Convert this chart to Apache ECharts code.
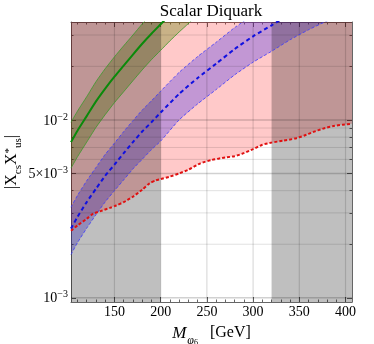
<!DOCTYPE html>
<html><head><meta charset="utf-8">
<script src="https://cdn.jsdelivr.net/npm/echarts@6/dist/echarts.min.js"></script>
<style>html,body{margin:0;padding:0;background:#fff}#c{width:374px;height:344px}</style>
</head><body><div id="c"></div>
<script>
// ---- data ----
const redMass  = [103,110,120,127,135,145,152,160,170,180,188,195,200,210,220,230,243,255,270,280,290,300,310,320,333,345,355,365,375,387,397,407];
const redValue = [2.38e-3,2.55e-3,2.78e-3,2.97e-3,3.07e-3,3.20e-3,3.30e-3,3.45e-3,3.70e-3,4.05e-3,4.40e-3,4.58e-3,4.65e-3,4.80e-3,5.00e-3,5.25e-3,5.70e-3,5.95e-3,6.15e-3,6.25e-3,6.50e-3,6.85e-3,7.25e-3,7.45e-3,7.65e-3,7.85e-3,8.15e-3,8.55e-3,8.90e-3,9.25e-3,9.40e-3,9.50e-3];

const blueMass   = [103,110,120,130,140,150,160,170,180,190,200,220,240,260,280,300,320,340,360,380,400,407];
const blueCenter = [2.45e-3,2.85e-3,3.45e-3,4.1e-3,4.85e-3,5.6e-3,6.5e-3,7.5e-3,8.6e-3,9.7e-3,1.10e-2,1.40e-2,1.72e-2,2.07e-2,2.50e-2,2.95e-2,3.40e-2,3.95e-2,4.5e-2,5.1e-2,5.7e-2,5.9e-2];
const blueUpper  = [3.23e-3,3.76e-3,4.55e-3,5.4e-3,6.4e-3,7.4e-3,8.6e-3,9.9e-3,1.135e-2,1.28e-2,1.45e-2,1.85e-2,2.27e-2,2.73e-2,3.30e-2,3.89e-2,4.5e-2,5.2e-2,5.9e-2,6.7e-2,7.5e-2,7.8e-2];
const blueLower  = [1.75e-3,2.04e-3,2.46e-3,2.93e-3,3.46e-3,4.0e-3,4.6e-3,5.3e-3,6.0e-3,6.8e-3,7.6e-3,1.0e-2,1.23e-2,1.48e-2,1.79e-2,2.11e-2,2.43e-2,2.82e-2,3.21e-2,3.6e-2,4.0e-2,4.2e-2];

const greenMass   = [103,110,120,130,140,150,160,170,180,190,200,210,220,230,240,250];
const greenCenter = [7.5e-3,8.7e-3,1.05e-2,1.27e-2,1.50e-2,1.75e-2,2.02e-2,2.33e-2,2.68e-2,3.05e-2,3.45e-2,3.9e-2,4.4e-2,4.9e-2,5.4e-2,6.0e-2];
const greenUpper  = [9.7e-3,1.12e-2,1.35e-2,1.64e-2,1.94e-2,2.26e-2,2.61e-2,3.0e-2,3.46e-2,3.93e-2,4.45e-2,5.0e-2,5.7e-2,6.3e-2,7.0e-2,7.7e-2];
const greenLower  = [5.36e-3,6.2e-3,7.5e-3,9.07e-3,1.07e-2,1.25e-2,1.44e-2,1.66e-2,1.91e-2,2.18e-2,2.46e-2,2.78e-2,3.12e-2,3.48e-2,3.9e-2,4.3e-2];

const grayMassRanges = [[103,200],[320,407]];

const xTickLabels = [150,200,250,300,350,400];
const xMinorTicks = [110,120,130,140,160,170,180,190,210,220,230,240,260,270,280,290,310,320,330,340,360,370,380,390];
const yTickLabels = [0.001,0.005,0.01];
const yMinorTicks = [0.002,0.003,0.004,0.006,0.007,0.008,0.009,0.02,0.03];
const yGridValues = [0.001,0.002,0.003,0.004,0.005,0.006,0.007,0.008,0.009,0.01,0.02,0.03];
const xGridValues = [150,200,250,300,350,400];

// ---- chart ----
const X_MIN = 103, X_MAX = 407, Y_MIN = 9.47e-4, Y_MAX = 0.0355;
const SERIF = 'Liberation Serif, Times New Roman, serif';
const pairs = (xs, ys) => xs.map((x, i) => [x, ys[i]]);

function yFmt(v) {
  const e = Math.floor(Math.log10(v) + 1e-9);
  const m = Math.round(v / Math.pow(10, e));
  return (m === 1 ? '{b|10}' : '{b|' + m + '×10}') + '{s|−' + (-e) + '}';
}
const yRich = {
  b: {fontSize: 14, fontFamily: SERIF, color: '#000', lineHeight: 16, verticalAlign: 'bottom'},
  s: {fontSize: 10, fontFamily: SERIF, color: '#000', lineHeight: 10, verticalAlign: 'top'}
};

function polygonSeries(z, color, buildPts) {
  return {
    type: 'custom', coordinateSystem: 'cartesian2d', clip: true, silent: true, z: z,
    data: [[200, 0.005]],
    renderItem: (params, api) => ({type: 'polygon', shape: {points: buildPts(api)}, style: {fill: color}})
  };
}
function band(xs, up, lo) {
  return api => {
    const p = [];
    xs.forEach((x, i) => p.push(api.coord([x, up[i]])));
    for (let i = xs.length - 1; i >= 0; i--) p.push(api.coord([xs[i], lo[i]]));
    return p;
  };
}
function lineSeries(xs, ys, color, width, type, z) {
  return {type: 'line', data: pairs(xs, ys), showSymbol: false, smooth: 0.2, clip: true, silent: true, z: z,
    lineStyle: {color: color, width: width, type: type}};
}

const chart = echarts.init(document.getElementById('c'), null, {renderer: 'canvas'});
const axisLineStyle = {color: '#666', width: 1};
const tickStyle = {color: '#666', width: 1};

chart.setOption({
  animation: false,
  backgroundColor: '#fff',
  grid: {left: 71, right: 22, top: 22, bottom: 42, containLabel: false, outerBoundsMode: 'none'},
  graphic: [{
    type: 'text', x: 211, y: 12,
    style: {text: 'Scalar Diquark', font: '17px ' + SERIF, fill: '#000', textAlign: 'center', textVerticalAlign: 'middle'}
  }],
  xAxis: [
    {type: 'value', min: X_MIN, max: X_MAX, position: 'bottom',
      axisLine: {show: true, onZero: false, lineStyle: axisLineStyle},
      axisTick: {show: true, inside: true, length: 5, customValues: xTickLabels, lineStyle: tickStyle},
      axisLabel: {customValues: xTickLabels, fontFamily: SERIF, fontSize: 14, color: '#000', margin: 3},
      splitLine: {show: false},
      name: '{i|M}{p|φ}{q|6}{n|   [GeV]}', nameLocation: 'middle', nameGap: 23, nameMoveOverlap: false,
      nameTextStyle: {verticalAlign: 'top', rich: {
        i: {fontSize: 17, fontFamily: SERIF, fontStyle: 'italic', color: '#000', lineHeight: 20, verticalAlign: 'top'},
        p: {fontSize: 12, fontFamily: SERIF, fontStyle: 'italic', color: '#000', lineHeight: 14, padding: [10,0,0,1], verticalAlign: 'top'},
        q: {fontSize: 8, fontFamily: SERIF, color: '#000', lineHeight: 10, padding: [14,0,0,0], verticalAlign: 'top'},
        n: {fontSize: 16, fontFamily: SERIF, color: '#000', lineHeight: 20, verticalAlign: 'top'}
      }}},
    {type: 'value', min: X_MIN, max: X_MAX, position: 'top',
      axisLine: {show: true, onZero: false, lineStyle: axisLineStyle},
      axisTick: {show: true, inside: true, length: 5, customValues: xTickLabels, lineStyle: tickStyle},
      axisLabel: {show: false}, splitLine: {show: false}},
    {type: 'value', min: X_MIN, max: X_MAX, position: 'bottom',
      axisLine: {show: false, onZero: false},
      axisTick: {show: true, inside: true, length: 2.5, customValues: xMinorTicks, lineStyle: tickStyle},
      axisLabel: {show: false}, splitLine: {show: false}},
    {type: 'value', min: X_MIN, max: X_MAX, position: 'top',
      axisLine: {show: false, onZero: false},
      axisTick: {show: true, inside: true, length: 2.5, customValues: xMinorTicks, lineStyle: tickStyle},
      axisLabel: {show: false}, splitLine: {show: false}}
  ],
  yAxis: [
    {type: 'log', logBase: 10, min: Y_MIN, max: Y_MAX, position: 'left',
      axisLine: {show: true, onZero: false, lineStyle: axisLineStyle},
      axisTick: {show: true, inside: true, length: 5, customValues: yTickLabels, lineStyle: tickStyle},
      axisLabel: {customValues: yTickLabels, formatter: yFmt, rich: yRich, margin: 3},
      splitLine: {show: false}, minorTick: {show: false},
      name: '{a||X}{b|cs}{a|X}{c|*}{b|us}{a||}', nameLocation: 'middle', nameGap: 47, nameRotate: 90, nameMoveOverlap: false,
      nameTextStyle: {rich: {
        a: {fontSize: 16, fontFamily: SERIF, color: '#000', lineHeight: 20, verticalAlign: 'top'},
        b: {fontSize: 11, fontFamily: SERIF, color: '#000', lineHeight: 12, padding: [9,0,0,0], verticalAlign: 'top'},
        c: {fontSize: 11, fontFamily: SERIF, color: '#000', lineHeight: 12, padding: [0,0,0,0], verticalAlign: 'top'}
      }}},
    {type: 'log', logBase: 10, min: Y_MIN, max: Y_MAX, position: 'right',
      axisLine: {show: true, onZero: false, lineStyle: axisLineStyle},
      axisTick: {show: true, inside: true, length: 5, customValues: yTickLabels, lineStyle: tickStyle},
      axisLabel: {show: false}, splitLine: {show: false}},
    {type: 'log', logBase: 10, min: Y_MIN, max: Y_MAX, position: 'left',
      axisLine: {show: false, onZero: false},
      axisTick: {show: true, inside: true, length: 2.5, customValues: yMinorTicks, lineStyle: tickStyle},
      axisLabel: {show: false}, splitLine: {show: false}},
    {type: 'log', logBase: 10, min: Y_MIN, max: Y_MAX, position: 'right',
      axisLine: {show: false, onZero: false},
      axisTick: {show: true, inside: true, length: 2.5, customValues: yMinorTicks, lineStyle: tickStyle},
      axisLabel: {show: false}, splitLine: {show: false}}
  ],
  series: [
    polygonSeries(1, 'rgba(255,0,0,0.21)', api => {
      const p = redMass.map((x, i) => api.coord([x, redValue[i]]));
      p.push(api.coord([X_MAX, Y_MAX]));
      p.push(api.coord([X_MIN, Y_MAX]));
      return p;
    }),
    polygonSeries(2, 'rgba(90,130,0,0.33)', band(greenMass, greenUpper, greenLower)),
    polygonSeries(2, 'rgba(70,50,235,0.33)', band(blueMass, blueUpper, blueLower)),
    {type: 'custom', coordinateSystem: 'cartesian2d', clip: true, silent: true, z: 3,
      data: [[200, 0.005]],
      renderItem: (params, api) => ({type: 'group', children: grayMassRanges.map(r => {
        const a = api.coord([r[0], Y_MAX]), b = api.coord([r[1], Y_MIN]);
        return {type: 'rect', shape: {x: a[0], y: a[1], width: b[0] - a[0], height: b[1] - a[1]}, style: {fill: 'rgba(0,0,0,0.25)'}};
      })})},
    {type: 'custom', coordinateSystem: 'cartesian2d', clip: true, silent: true, z: 4,
      data: [[200, 0.005]],
      renderItem: (params, api) => {
        const ch = [];
        yGridValues.forEach(v => {
          const a = api.coord([X_MIN, v]), b = api.coord([X_MAX, v]);
          const major = (v === 0.001 || v === 0.005 || v === 0.01);
          ch.push({type: 'line', shape: {x1: a[0], y1: a[1], x2: b[0], y2: b[1]}, style: {stroke: major ? 'rgba(0,0,0,0.18)' : 'rgba(0,0,0,0.12)', lineWidth: major ? 1.5 : 1}});
        });
        xGridValues.forEach(v => {
          const a = api.coord([v, Y_MIN]), b = api.coord([v, Y_MAX]);
          ch.push({type: 'line', shape: {x1: a[0], y1: a[1], x2: b[0], y2: b[1]}, style: {stroke: 'rgba(0,0,0,0.14)', lineWidth: 1.2}});
        });
        return {type: 'group', children: ch};
      }},
    lineSeries(greenMass, greenUpper, '#3a9a2a', 0.8, 'solid', 5),
    lineSeries(greenMass, greenLower, '#3a9a2a', 0.8, 'solid', 5),
    lineSeries(greenMass, greenCenter, '#0a8a0a', 2, 'solid', 6),
    lineSeries(blueMass, blueUpper, '#3a3aff', 0.8, [3, 2], 5),
    lineSeries(blueMass, blueLower, '#3a3aff', 0.8, [3, 2], 5),
    lineSeries(blueMass, blueCenter, '#1010e0', 2, [4, 3], 6),
    lineSeries(redMass, redValue, '#e01010', 2, [3, 2], 6)
  ]
});
</script>
</body></html>
